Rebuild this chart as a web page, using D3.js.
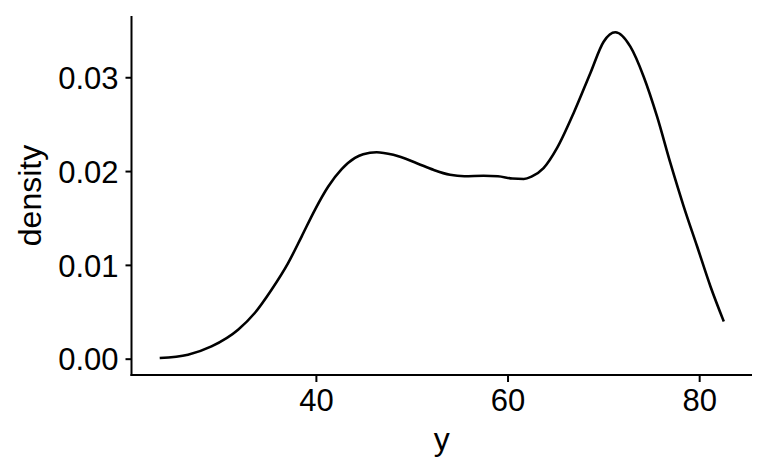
<!DOCTYPE html>
<html>
<head>
<meta charset="utf-8">
<script src="https://cdn.jsdelivr.net/npm/d3@7"></script>
<style>
  html, body { margin: 0; padding: 0; background: #fff; }
  svg { display: block; }
  text { font-family: "Liberation Sans", Arial, Helvetica, sans-serif; fill: #000; }
</style>
</head>
<body>
<svg id="chart" width="768" height="474"></svg>
<script>
// ---- data ----
const xValues = [23.70, 26.65, 29.10, 31.88, 33.62, 35.37, 37.10, 38.51, 39.90, 41.29,
  42.69, 44.08, 44.94, 46.34, 48.08, 50.53, 52.26, 54.00, 55.50, 57.50,
  59.00, 60.50, 61.70, 62.50, 63.76, 65.16, 66.89, 68.64, 70.03, 71.25,
  72.82, 74.21, 75.61, 77.00, 78.39, 79.79, 81.18, 82.57];
const densityValues = [0.00007, 0.00043, 0.00131, 0.00309, 0.00487, 0.00735, 0.01019, 0.01302, 0.01587, 0.01835,
  0.02020, 0.02140, 0.02180, 0.02201, 0.02173, 0.02084, 0.02013, 0.01960, 0.01945, 0.01950,
  0.01945, 0.01920, 0.01915, 0.01940, 0.02031, 0.02244, 0.02617, 0.03043, 0.03379, 0.03479,
  0.03326, 0.03006, 0.02580, 0.02084, 0.01622, 0.01196, 0.00770, 0.00397];
const xTicks = [40, 60, 80];
const yTicks = [0.00, 0.01, 0.02, 0.03];
const xTitle = "y";
const yTitle = "density";

// ---- layout ----
const svg = d3.select("#chart");
const panel = { left: 131.5, right: 752, top: 16, bottom: 375 };

const xMin = d3.min(xValues), xMax = d3.max(xValues);
const xPad = 0.05 * (xMax - xMin);
const yMax = d3.max(densityValues);
const yPad = 0.05 * yMax;

const x = d3.scaleLinear().domain([xMin - xPad, xMax + xPad]).range([panel.left, panel.right]);
const y = d3.scaleLinear().domain([-yPad, yMax + yPad]).range([panel.bottom, panel.top]);

const data = xValues.map((v, i) => ({ x: v, y: densityValues[i] }));

// density curve
svg.append("path")
  .datum(data)
  .attr("fill", "none")
  .attr("stroke", "#000")
  .attr("stroke-width", 2.6)
  .attr("stroke-linejoin", "round")
  .attr("stroke-linecap", "butt")
  .attr("d", d3.line().x(d => x(d.x)).y(d => y(d.y)).curve(d3.curveMonotoneX));

// x axis
const xAxis = svg.append("g").attr("transform", `translate(0,${panel.bottom})`)
  .call(d3.axisBottom(x).tickValues(xTicks).tickFormat(d3.format("d")).tickSize(7).tickPadding(7));
xAxis.select(".domain").remove();
xAxis.append("line").attr("x1", panel.left - 1).attr("x2", panel.right)
  .attr("stroke", "#000").attr("stroke-width", 2);
xAxis.selectAll(".tick line").attr("stroke", "#000").attr("stroke-width", 2);
xAxis.selectAll(".tick text").attr("font-size", 31).attr("fill", "#000")
  .attr("font-family", "Liberation Sans, Arial, sans-serif").attr("dy", "0.71em");

// y axis
const yAxis = svg.append("g").attr("transform", `translate(${panel.left},0)`)
  .call(d3.axisLeft(y).tickValues(yTicks).tickFormat(d3.format(".2f")).tickSize(6).tickPadding(7));
yAxis.select(".domain").remove();
yAxis.append("line").attr("y1", panel.top).attr("y2", panel.bottom + 1)
  .attr("stroke", "#000").attr("stroke-width", 2);
yAxis.selectAll(".tick line").attr("stroke", "#000").attr("stroke-width", 2);
yAxis.selectAll(".tick text").attr("font-size", 31).attr("fill", "#000")
  .attr("font-family", "Liberation Sans, Arial, sans-serif").attr("dy", "0.36em");

// axis titles
svg.append("text")
  .attr("x", (panel.left + panel.right) / 2)
  .attr("y", 450)
  .attr("text-anchor", "middle")
  .attr("font-size", 32)
  .text(xTitle);

svg.append("text")
  .attr("transform", `translate(41,${(panel.top + panel.bottom) / 2}) rotate(-90)`)
  .attr("text-anchor", "middle")
  .attr("font-size", 32)
  .text(yTitle);
</script>
</body>
</html>
